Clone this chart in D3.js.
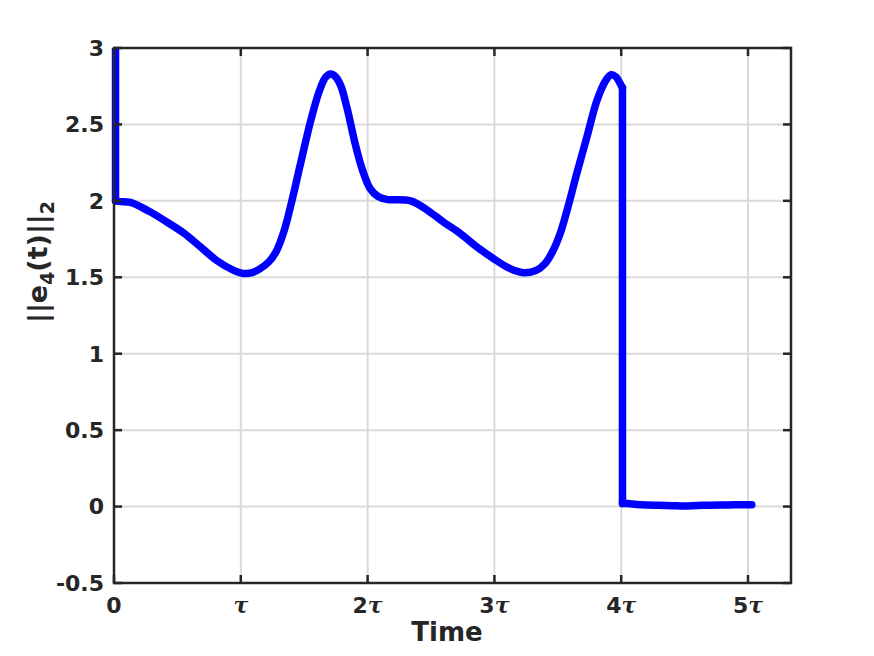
<!DOCTYPE html>
<html>
<head>
<meta charset="utf-8">
<script src="https://cdn.jsdelivr.net/npm/d3@7"></script>
<style>
  html, body { margin: 0; padding: 0; background: #ffffff; }
  svg { display: block; font-family: "DejaVu Sans", sans-serif; }
</style>
</head>
<body>
<svg id="chart" width="874" height="656"></svg>
<script>
// ---- data (time in units of tau) ----
const timeValues = [0.012, 0.012, 0.05, 0.13, 0.28, 0.42, 0.55, 0.68, 0.81, 0.94, 1.02, 1.09, 1.15, 1.22, 1.28, 1.34, 1.40, 1.47, 1.55, 1.62, 1.67, 1.71, 1.75, 1.79, 1.84, 1.90, 1.96, 2.02, 2.08, 2.15, 2.34, 2.47, 2.60, 2.73, 2.86, 2.99, 3.12, 3.23, 3.33, 3.40, 3.46, 3.52, 3.58, 3.65, 3.73, 3.81, 3.88, 3.92, 3.96, 3.99, 4.01, 4.01, 4.05, 4.12, 4.2, 4.3, 4.4, 4.5, 4.6, 4.7, 4.8, 4.9, 5.03];
const errorNorm  = [3.0, 2.0, 1.995, 1.99, 1.93, 1.86, 1.79, 1.70, 1.61, 1.547, 1.525, 1.53, 1.555, 1.60, 1.67, 1.80, 1.99, 2.24, 2.52, 2.72, 2.81, 2.83, 2.81, 2.75, 2.60, 2.38, 2.20, 2.08, 2.03, 2.01, 2.0, 1.94, 1.86, 1.787, 1.70, 1.624, 1.558, 1.53, 1.545, 1.59, 1.67, 1.79, 1.96, 2.18, 2.42, 2.66, 2.79, 2.825, 2.81, 2.77, 2.74, 0.02, 0.02, 0.014, 0.01, 0.008, 0.006, 0.004, 0.007, 0.009, 0.01, 0.012, 0.012];
const xTickValues = [0, 1, 2, 3, 4, 5];
const xTickLabels = ["0", "τ", "2τ", "3τ", "4τ", "5τ"];
const yTickValues = [-0.5, 0, 0.5, 1, 1.5, 2, 2.5, 3];
const yTickLabels = ["-0.5", "0", "0.5", "1", "1.5", "2", "2.5", "3"];
const xDomain = [0, 5.339];
const yDomain = [-0.5, 3];

// ---- layout ----
const pL = 114, pR = 791, pT = 48, pB = 583;
const axisColor = "#262626";
const gridColor = "#dadada";

const svg = d3.select("#chart");
svg.append("rect").attr("width", 874).attr("height", 656).attr("fill", "#fff");

const x = d3.scaleLinear().domain(xDomain).range([pL, pR]);
const y = d3.scaleLinear().domain(yDomain).range([pB, pT]);

// grid
const grid = svg.append("g");
grid.selectAll(".gx").data(xTickValues).enter().append("line")
  .attr("x1", d => x(d)).attr("x2", d => x(d))
  .attr("y1", pT).attr("y2", pB)
  .attr("stroke", gridColor).attr("stroke-width", 2);
grid.selectAll(".gy").data(yTickValues).enter().append("line")
  .attr("x1", pL).attr("x2", pR)
  .attr("y1", d => y(d)).attr("y2", d => y(d))
  .attr("stroke", gridColor).attr("stroke-width", 2);

// clip
svg.append("clipPath").attr("id", "clip")
  .append("rect").attr("x", pL - 6).attr("y", pT).attr("width", pR - pL + 6).attr("height", pB - pT);

// line: vertical jumps drawn straight, smooth parts interpolated
const pts = timeValues.map((t, i) => [t, errorNorm[i]]);
const segments = [];
let cur = [pts[0]];
for (let i = 1; i < pts.length; i++) {
  if (pts[i][0] === pts[i - 1][0]) {
    if (cur.length > 1) segments.push({ p: cur, smooth: true });
    segments.push({ p: [pts[i - 1], pts[i]], smooth: false });
    cur = [pts[i]];
  } else {
    cur.push(pts[i]);
  }
}
if (cur.length > 1) segments.push({ p: cur, smooth: true });

const lineSmooth = d3.line().x(d => x(d[0])).y(d => y(d[1])).curve(d3.curveCatmullRom.alpha(0.5));
const lineStraight = d3.line().x(d => x(d[0])).y(d => y(d[1])).curve(d3.curveLinear);
const lg = svg.append("g").attr("clip-path", "url(#clip)");
segments.forEach(s => {
  lg.append("path")
    .attr("d", (s.smooth ? lineSmooth : lineStraight)(s.p))
    .attr("fill", "none")
    .attr("stroke", "#0000ff")
    .attr("stroke-width", 7.5)
    .attr("stroke-linejoin", "round")
    .attr("stroke-linecap", "round");
});

// axes (ticks inward, on all four sides)
const tickLen = 8;
const ax = svg.append("g").attr("stroke", axisColor).attr("stroke-width", 2.5);
xTickValues.forEach(v => {
  ax.append("line").attr("x1", x(v)).attr("x2", x(v)).attr("y1", pB).attr("y2", pB - tickLen);
  ax.append("line").attr("x1", x(v)).attr("x2", x(v)).attr("y1", pT).attr("y2", pT + tickLen);
});
yTickValues.forEach(v => {
  ax.append("line").attr("x1", pL).attr("x2", pL + tickLen).attr("y1", y(v)).attr("y2", y(v));
  ax.append("line").attr("x1", pR).attr("x2", pR - tickLen).attr("y1", y(v)).attr("y2", y(v));
});
svg.append("rect")
  .attr("x", pL).attr("y", pT).attr("width", pR - pL).attr("height", pB - pT)
  .attr("fill", "none").attr("stroke", axisColor).attr("stroke-width", 2.5);

// tick labels
const yl = svg.append("g").attr("font-size", 22).attr("font-weight", "bold").attr("fill", axisColor);
yTickValues.forEach((v, i) => {
  yl.append("text").attr("x", pL - 10).attr("y", y(v)).attr("dy", "0.36em")
    .attr("text-anchor", "end").text(yTickLabels[i]);
});
const xl = svg.append("g").attr("font-size", 22).attr("font-weight", "bold").attr("fill", axisColor);
xTickValues.forEach((v, i) => {
  const lab = xTickLabels[i];
  const t = xl.append("text").attr("x", x(v)).attr("y", 613).attr("text-anchor", "middle");
  const m = lab.match(/^(\d*)(τ?)$/);
  if (m[1]) t.append("tspan").text(m[1]);
  if (m[2]) t.append("tspan").attr("font-style", "italic").attr("font-family", "DejaVu Serif, serif").text(m[2]);
});

// axis titles
svg.append("text").attr("x", 447).attr("y", 641).attr("text-anchor", "middle")
  .attr("font-size", 26).attr("font-weight", "bold").attr("fill", axisColor).text("Time");

const ylab = svg.append("text")
  .attr("transform", "translate(47,262) rotate(-90)")
  .attr("text-anchor", "middle")
  .attr("font-size", 27).attr("font-weight", "bold").attr("fill", axisColor);
ylab.append("tspan").text("||e");
ylab.append("tspan").attr("font-size", 19).attr("dy", 7).text("4");
ylab.append("tspan").attr("dy", -7).text("(t)||");
ylab.append("tspan").attr("font-size", 19).attr("dy", 7).text("2");
</script>
</body>
</html>
